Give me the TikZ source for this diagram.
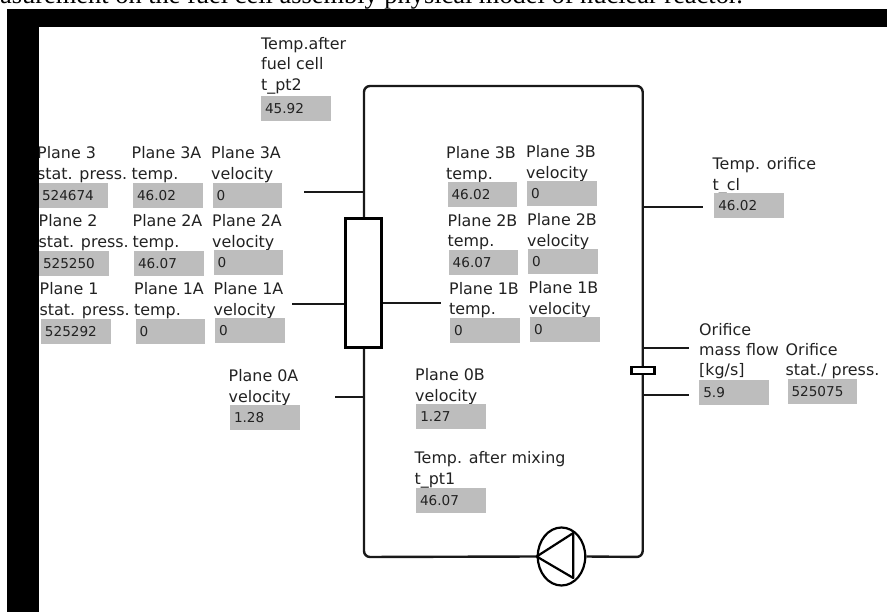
\documentclass[tikz,border=0pt]{standalone}
\usepackage{fontspec}
\setmainfont{DejaVu Sans}
\newfontfamily\capfont{Liberation Serif}
\usetikzlibrary{shapes.geometric}
\definecolor{boxgray}{HTML}{BDBDBD}
\definecolor{inkdark}{HTML}{222222}
\tikzset{
  lbl/.style={anchor=base west,inner sep=0pt,align=left,text=inkdark,yshift=0.8pt,
    font=\fontsize{15.9}{20.3}\selectfont},
  val/.style={anchor=north west,fill=boxgray,draw=none,inner sep=0pt,
    minimum width=69.5pt,minimum height=25pt,text=inkdark,
    align=left,font=\fontsize{13.6}{15}\selectfont,
    text height=10pt,text depth=0pt,outer sep=0pt},
  pipe/.style={line width=2.4pt,draw=black!90},
  stub/.style={line width=1.9pt,draw=black!90},
  band/.style={fill=black,draw=none}
}
% name, label x, label last-line base y, label, box x, box y, value
\newcommand{\readout}[7]{%
  \node[lbl] (#1l) at (#2,#3) {#4};
  \node[val,inner xsep=0pt,text width=69.5pt] (#1v) at (#5,#6) {\hspace*{4pt}#7};
}
\begin{document}
\begin{tikzpicture}[x=1pt,y=-1pt]
\useasboundingbox (0,0) rectangle (887,612);
\fill[white] (0,0) rectangle (887,612);
\node[anchor=base east,inner sep=0pt,font=\capfont\fontsize{26.4}{28}\selectfont] (cap) at (743,4)
  {asurement on the fuel cell assembly physical model of nuclear reactor.};
% readouts
\readout{tpttwo}{261}{91}{Temp.after\\fuel cell\\t\_pt2}{261}{96}{45.92}
\readout{pthree}{37}{180}{Plane 3\\stat. press.}{38}{183}{524674}
\readout{pthreea}{131.5}{180}{Plane 3A\\temp.}{133}{183.5}{46.02}
\readout{vthreea}{211}{180}{Plane 3A\\velocity}{212.5}{183}{0}
\readout{ptwo}{38.5}{248}{Plane 2\\stat. press.}{39}{251}{525250}
\readout{ptwoa}{132.5}{248}{Plane 2A\\temp.}{134}{251}{46.07}
\readout{vtwoa}{212}{248}{Plane 2A\\velocity}{213.5}{250.5}{0}
\readout{pone}{39.5}{316}{Plane 1\\stat. press.}{41}{319}{525292}
\readout{ponea}{134}{316}{Plane 1A\\temp.}{135.5}{319}{0}
\readout{vonea}{213.5}{316}{Plane 1A\\velocity}{215}{318.5}{0}
\readout{pthreeb}{446}{180}{Plane 3B\\temp.}{447.5}{182.5}{46.02}
\readout{vthreeb}{526}{179}{Plane 3B\\velocity}{527}{181.5}{0}
\readout{ptwob}{447.5}{247.5}{Plane 2B\\temp.}{448.7}{250}{46.07}
\readout{vtwob}{527}{247}{Plane 2B\\velocity}{528}{249.5}{0}
\readout{poneb}{449}{315.5}{Plane 1B\\temp.}{450}{318}{0}
\readout{voneb}{528.5}{315}{Plane 1B\\velocity}{530}{317.5}{0}
\readout{tcl}{712.5}{191}{Temp. orifice\\t\_cl}{714.3}{193.5}{46.02}
\readout{vzeroa}{228.5}{403}{Plane 0A\\velocity}{230}{405.5}{1.28}
\readout{vzerob}{415}{402}{Plane 0B\\velocity}{416.3}{404.5}{1.27}
\readout{tptone}{414.5}{485}{Temp. after mixing\\t\_pt1}{416}{488}{46.07}
\readout{omass}{699}{376.5}{Orifice\\mass flow\\{[}kg/s{]}}{699.3}{380}{5.9}
\readout{ostat}{785.5}{376.5}{Orifice\\stat./ press.}{787.5}{379.5}{525075}
% components
\node[draw=black,line width=2.8pt,fill=white,minimum width=36pt,minimum height=129pt,inner sep=0pt] (fuel) at (363.8,283) {};
\node[draw=black,line width=2.2pt,ellipse,minimum width=47.5pt,minimum height=58pt,inner sep=0pt] (pump) at (561.5,556.5) {};
\coordinate (bl) at (364,557);
\coordinate (tl) at (364,86);
\coordinate (tr) at (642.7,86);
\coordinate (br) at (642.7,557);
\draw[pipe,rounded corners=6pt] (pump.west) -- (bl) -- (fuel.south -| bl);
\draw[pipe,rounded corners=6pt] (fuel.north -| tl) -- (tl) -- (tr) -- (br) -- (pump.east);
\node[draw=black,line width=2.2pt,fill=white,minimum width=23pt,minimum height=7pt,inner sep=0pt] (orifice) at (643,370.7) {};
% pump triangle
\coordinate (ptip) at (pump.west);
\coordinate (ptop) at (573.3,533);
\coordinate (pbot) at (573.3,578);
\draw[line width=2.2pt,line join=round] (ptip) -- (ptop) -- (pbot) -- cycle;
% sensor stubs
\coordinate (sa) at (304,192); \coordinate (sawall) at (364,192);
\coordinate (sb) at (292,304);
\coordinate (sc) at (440.5,303);
\coordinate (sd) at (335,397); \coordinate (sdwall) at (364,397);
\coordinate (se) at (702.5,207); \coordinate (sewall) at (642.7,207);
\coordinate (sf) at (688.5,348); \coordinate (sfwall) at (642.7,348);
\coordinate (sg) at (688.5,395); \coordinate (sgwall) at (642.7,395);
\draw[stub] (sa) -- (sawall);
\draw[stub] (sb) -- (sb -| fuel.west);
\draw[stub] (sc) -- (sc -| fuel.east);
\draw[stub] (sd) -- (sdwall);
\draw[stub] (se) -- (sewall);
\draw[stub] (sf) -- (sfwall);
\draw[stub] (sg) -- (sgwall);
% black frame
\fill[band] (7,9) rectangle (887,27);
\fill[band] (7,9) rectangle (38.7,612);
\end{tikzpicture}
\end{document}
